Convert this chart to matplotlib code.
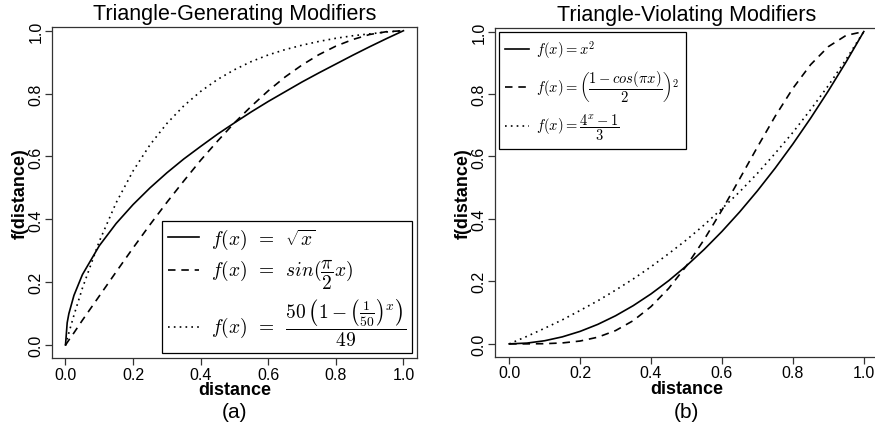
"""Distance modifier curves: triangle-generating vs triangle-violating."""

import matplotlib.pyplot as plt
from matplotlib.lines import Line2D

plt.rcParams['font.family'] = ['Liberation Sans', 'DejaVu Sans']
plt.rcParams['mathtext.fontset'] = 'cm'

# Panel (a): triangle-generating modifiers
dist_a = [0.0, 0.005, 0.01, 0.025, 0.05, 0.1, 0.15, 0.2, 0.25, 0.3, 0.35, 0.4,
          0.45, 0.5, 0.55, 0.6, 0.65, 0.7, 0.75, 0.8, 0.85, 0.9, 0.95, 1.0]
sqrt_vals = [0.0, 0.071, 0.1, 0.158, 0.224, 0.316, 0.387, 0.447, 0.5, 0.548,
             0.592, 0.632, 0.671, 0.707, 0.742, 0.775, 0.806, 0.837, 0.866,
             0.894, 0.922, 0.949, 0.975, 1.0]
sin_vals = [0.0, 0.008, 0.016, 0.039, 0.079, 0.156, 0.233, 0.309, 0.383, 0.454,
            0.522, 0.588, 0.649, 0.707, 0.760, 0.809, 0.853, 0.891, 0.924,
            0.951, 0.972, 0.988, 0.997, 1.0]
exp50_vals = [0.0, 0.020, 0.039, 0.095, 0.181, 0.330, 0.453, 0.554, 0.637,
              0.705, 0.761, 0.807, 0.845, 0.876, 0.902, 0.923, 0.940, 0.954,
              0.966, 0.976, 0.984, 0.990, 0.996, 1.0]

# Panel (b): triangle-violating modifiers
dist_b = [0.0, 0.05, 0.1, 0.15, 0.2, 0.25, 0.3, 0.35, 0.4, 0.45, 0.5, 0.55,
          0.6, 0.65, 0.7, 0.75, 0.8, 0.85, 0.9, 0.95, 1.0]
square_vals = [0.0, 0.0025, 0.01, 0.0225, 0.04, 0.0625, 0.09, 0.1225, 0.16,
               0.2025, 0.25, 0.3025, 0.36, 0.4225, 0.49, 0.5625, 0.64, 0.7225,
               0.81, 0.9025, 1.0]
cos_vals = [0.0, 0.0000, 0.0006, 0.0030, 0.0091, 0.0214, 0.0425, 0.0745,
            0.1194, 0.1779, 0.25, 0.3343, 0.4284, 0.5285, 0.6302, 0.7286,
            0.8181, 0.8940, 0.9517, 0.9877, 1.0]
pow4_vals = [0.0, 0.024, 0.050, 0.077, 0.107, 0.138, 0.172, 0.208, 0.247,
             0.289, 0.333, 0.381, 0.433, 0.487, 0.546, 0.610, 0.677, 0.750,
             0.827, 0.911, 1.0]

ticks = [0.0, 0.2, 0.4, 0.6, 0.8, 1.0]
tick_labels = ['0.0', '0.2', '0.4', '0.6', '0.8', '1.0']

labels_a = [r'$f(x)\ \,=\ \,\sqrt{x}$',
            r'$f(x)\ \,=\ \,sin(\dfrac{\pi}{2}x)$',
            r'$f(x)\ \,=\ \,\dfrac{50\,\left(1-\left(\frac{1}{50}\right)^x\right)}{49}$']
labels_b = [r'$f(x) = x^2$',
            r'$f(x) = \left(\dfrac{1-cos(\pi x)}{2}\right)^2$',
            r'$f(x) = \dfrac{4^x-1}{3}$']

SOLID = '-'
DASHED = (0, (4.5, 3.5))
DOTTED = (0, (1, 2.5))
LW = 1.2


def style_panel(ax, title, tag):
    """Give an axes the look of an R base-graphics panel."""
    ax.set_xlim(-0.04, 1.04)
    ax.set_ylim(-0.042, 1.011)
    ax.set_xticks(ticks)
    ax.set_xticklabels(tick_labels)
    ax.set_yticks(ticks)
    ax.set_yticklabels(tick_labels, rotation=90, va='center')
    ax.tick_params(direction='out', length=5, width=0.9, labelsize=11.5,
                   color='#333333', pad=1)
    for spine in ax.spines.values():
        spine.set_linewidth(0.9)
        spine.set_color('#333333')
    ax.set_xlabel('distance', fontsize=13, fontweight='bold', labelpad=-0.5)
    ax.set_ylabel('f(distance)', fontsize=13, fontweight='bold', labelpad=0)
    ax.set_title(title, fontsize=15.5, pad=6)
    pos = ax.get_position()
    ax.figure.text((pos.x0 + pos.x1) / 2, 0.02, tag, ha='center', va='bottom',
                   fontsize=15)


fig = plt.figure(figsize=(8.75, 4.31), dpi=100)
ax_a = fig.add_axes([0.0594, 0.1664, 0.4171, 0.768])
ax_b = fig.add_axes([0.5657, 0.1694, 0.4377, 0.763])

ax_a.plot(dist_a, sqrt_vals, color='black', lw=LW, linestyle=SOLID)
ax_a.plot(dist_a, sin_vals, color='black', lw=LW, linestyle=DASHED)
ax_a.plot(dist_a, exp50_vals, color='black', lw=LW, linestyle=DOTTED)

ax_b.plot(dist_b, square_vals, color='black', lw=LW, linestyle=SOLID)
ax_b.plot(dist_b, cos_vals, color='black', lw=LW, linestyle=DASHED)
ax_b.plot(dist_b, pow4_vals, color='black', lw=LW, linestyle=DOTTED)

style_panel(ax_a, 'Triangle-Generating Modifiers', '(a)')
style_panel(ax_b, 'Triangle-Violating Modifiers', '(b)')

handles = [Line2D([], [], color='black', lw=LW, linestyle=s)
           for s in (SOLID, DASHED, DOTTED)]

leg_a = ax_a.legend(handles, labels_a, loc='lower right', fontsize=14,
                    handlelength=1.6, handletextpad=0.6, labelspacing=0.3,
                    borderpad=0.3, borderaxespad=0.25, fancybox=False,
                    framealpha=1)
leg_a.get_frame().set_edgecolor('black')
leg_a.get_frame().set_linewidth(0.9)

leg_b = ax_b.legend(handles, labels_b, loc='upper left', fontsize=10.5,
                    handlelength=1.6, handletextpad=0.5, labelspacing=0.55,
                    borderpad=0.45, borderaxespad=0.25, fancybox=False,
                    framealpha=1)
leg_b.get_frame().set_edgecolor('black')
leg_b.get_frame().set_linewidth(0.9)

plt.savefig('out.png', dpi=100)
plt.close()
